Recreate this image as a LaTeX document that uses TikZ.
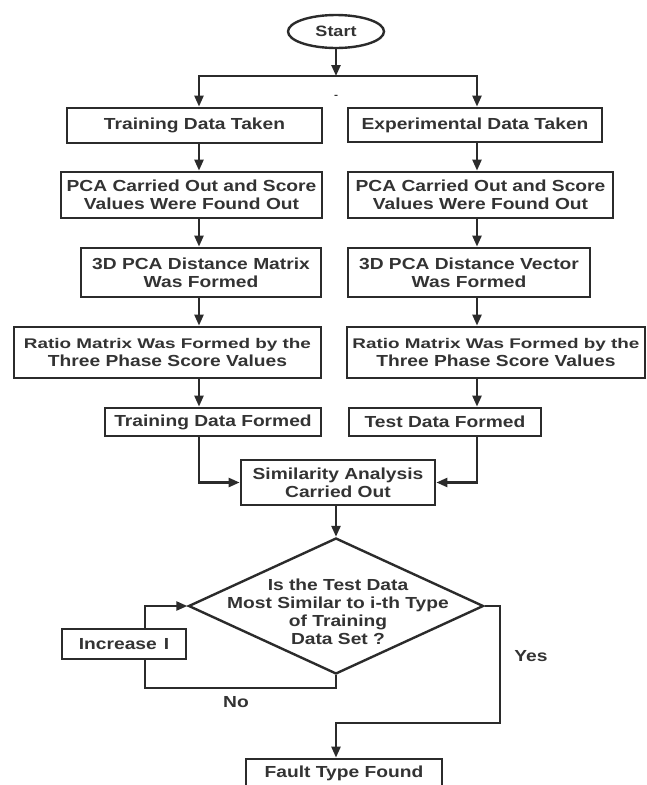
\documentclass[tikz,border=0pt]{standalone}
\usepackage{fontspec}
\newfontfamily\bx[FakeStretch=1.2]{Liberation Sans}
\newfontfamily\bxw[FakeStretch=1.35]{Liberation Sans}
\usetikzlibrary{shapes.geometric,arrows.meta}
\definecolor{ink}{HTML}{2B2B2B}
\definecolor{txt}{HTML}{333333}
\tikzset{
  box/.style={draw=ink, line width=2.8pt, inner sep=0pt, align=center,
    font=\bx\bfseries\fontsize{16}{18}\selectfont, text=txt},
  conn/.style={draw=ink, line width=2.4pt},
  arr/.style={conn, -{Triangle[length=11pt,width=9pt]}},
  lbl/.style={font=\bx\bfseries\fontsize{16}{18}\selectfont, text=txt, inner sep=0pt},
}
\begin{document}
\begin{tikzpicture}[x=1pt,y=-1pt]
\fill[white] (0,0) rectangle (647,785);
\useasboundingbox (0,0) rectangle (647,785);
% column positions
\coordinate (xL) at (199,0);
\coordinate (xR) at (477,0);
\coordinate (xN) at (145,0);
\coordinate (jn) at (336,76);
\coordinate (yc) at (500,723);
% nodes
\node[draw=ink, line width=2.4pt, ellipse, minimum width=96pt, minimum height=33pt,
  inner sep=0pt, font=\bx\bfseries\fontsize{15}{18}\selectfont, text=txt] (start) at (336,31.5) {Start};
\node[font=\bx\bfseries\fontsize{10}{10}\selectfont, text=txt, inner sep=0pt] (dash) at (336,97) {-};
\node[box, minimum width=255pt, minimum height=35pt] (train) at (194.5,125.5) {Training Data Taken};
\node[box, minimum width=254pt, minimum height=34pt] (exp) at (475,125) {Experimental Data Taken};
\node[box, minimum width=261pt, minimum height=46pt] (pca1) at (191.5,195) {PCA Carried Out and Score\\Values Were Found Out};
\node[box, minimum width=265pt, minimum height=46pt] (pca2) at (480.5,195) {PCA Carried Out and Score\\Values Were Found Out};
\node[box, minimum width=240pt, minimum height=49pt] (d3a) at (201,272.5) {3D PCA Distance Matrix\\Was Formed};
\node[box, minimum width=242pt, minimum height=49pt] (d3b) at (469,272.5) {3D PCA Distance Vector\\Was Formed};
\node[box, minimum width=307pt, minimum height=51pt] (ratio1) at (167.5,352.5)
  {{\bxw\bfseries\fontsize{14}{18}\selectfont Ratio Matrix Was Formed by the}\\Three Phase Score Values};
\node[box, minimum width=298pt, minimum height=51pt] (ratio2) at (496,352.5)
  {{\bxw\bfseries\fontsize{14}{18}\selectfont Ratio Matrix Was Formed by the}\\Three Phase Score Values};
\node[box, minimum width=216pt, minimum height=28pt] (tdf) at (213,422) {Training Data Formed};
\node[box, minimum width=192pt, minimum height=28pt] (test) at (445,422) {Test Data Formed};
\node[box, minimum width=194pt, minimum height=45pt] (sim) at (338,482.5) {Similarity Analysis\\Carried Out};
\node[draw=ink, line width=2.4pt, diamond, minimum width=295pt, minimum height=136pt, inner sep=0pt] (dia) at (336,606) {};
\node[lbl, align=center] (q) at (338,612) {Is the Test Data\\Most Similar to i-th Type\\of Training\\Data Set ?};
\node[box, minimum width=124pt, minimum height=30pt] (inc) at (124,644) {Increase\hspace{7pt}I};
\node[box, minimum width=196pt, minimum height=28pt] (fault) at (344,773) {Fault Type Found};
\node[lbl] (yes) at (531,656) {Yes};
\node[lbl] (no) at (236,702) {No};
% connectors
\draw[arr] (start.south) -- (jn);
\draw[arr] (jn) -| (train.north -| xL);
\draw[arr] (jn) -| (exp.north -| xR);
\draw[arr] (train.south -| xL) -- (pca1.north -| xL);
\draw[arr] (exp.south -| xR) -- (pca2.north -| xR);
\draw[arr] (pca1.south -| xL) -- (d3a.north -| xL);
\draw[arr] (pca2.south -| xR) -- (d3b.north -| xR);
\draw[arr] (d3a.south -| xL) -- (ratio1.north -| xL);
\draw[arr] (d3b.south -| xR) -- (ratio2.north -| xR);
\draw[arr] (ratio1.south -| xL) -- (tdf.north -| xL);
\draw[arr] (ratio2.south -| xR) -- (test.north -| xR);
\draw[arr] (tdf.south -| xL) |- (sim.west);
\draw[arr] (test.south -| xR) |- (sim.east);
\draw[arr] (sim.south -| dia.north) -- (dia.north);
\draw[conn] (dia.south) -- ++(0,13) -| (inc.south -| xN);
\draw[arr] (inc.north -| xN) |- (dia.west);
\draw[arr] (dia.east) -| (yc) -| (fault.north -| dia.south);
\end{tikzpicture}
\end{document}
